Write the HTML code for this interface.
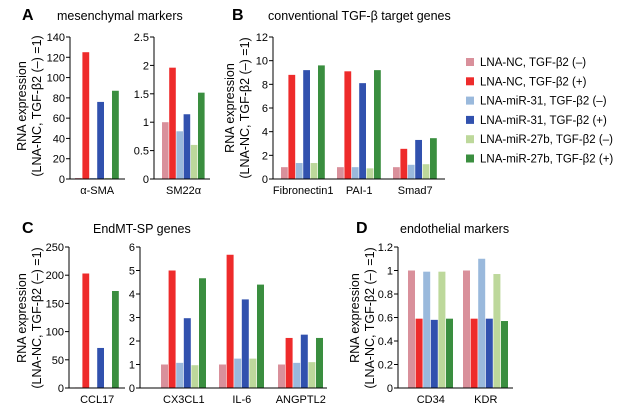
<!DOCTYPE html>
<html><head><meta charset="utf-8"><style>
html,body{margin:0;padding:0;background:#fff;}
svg{display:block;font-family:"Liberation Sans",Arial,sans-serif;}
</style></head><body>
<svg id="chart" width="638" height="412" viewBox="0 0 638 412" xmlns="http://www.w3.org/2000/svg">
<g font-size="16" font-weight="bold" fill="#000">
<text x="22" y="20">A</text>
<text x="232" y="20">B</text>
<text x="22" y="233">C</text>
<text x="356" y="233">D</text>
</g>
<g font-size="12.5" fill="#000">
<text x="57" y="20">mesenchymal markers</text>
<text x="268" y="20">conventional TGF-β target genes</text>
<text x="93" y="233">EndMT-SP genes</text>
<text x="400" y="233">endothelial markers</text>
</g>
<g id="ytitles" font-size="12.5" fill="#000" text-anchor="middle"></g>
<g id="plots"></g>
<g id="legend" font-size="11.5" fill="#000"></g>
</svg>
<script>
const colors=["#d9909b","#ee2b2b","#9ab9dc","#3151ae","#bdd89b","#3a8e3f"];
const seriesNames=["LNA-NC, TGF-β2 (–)","LNA-NC, TGF-β2 (+)","LNA-miR-31, TGF-β2 (–)","LNA-miR-31, TGF-β2 (+)","LNA-miR-27b, TGF-β2 (–)","LNA-miR-27b, TGF-β2 (+)"];
const catsA1=["α-SMA"], valsA1=[[1,125,1,76,1,87]], ticksA1=[0,20,40,60,80,100,120,140];
const catsA2=["SM22α"], valsA2=[[1,1.96,0.84,1.14,0.6,1.52]], ticksA2=[0,0.5,1,1.5,2,2.5];
const catsB=["Fibronectin1","PAI-1","Smad7"];
const valsB=[[1,8.8,1.35,9.2,1.35,9.6],[1,9.1,1,8.1,0.9,9.2],[1,2.55,1.2,3.3,1.25,3.45]];
const ticksB=[0,2,4,6,8,10,12];
const catsC1=["CCL17"], valsC1=[[1,203,1,71,1,172]], ticksC1=[0,50,100,150,200,250];
const catsC2=["CX3CL1","IL-6","ANGPTL2"];
const valsC2=[[1,5,1.07,2.97,0.97,4.67],[1,5.67,1.25,3.77,1.25,4.4],[1,2.13,1.07,2.27,1.1,2.13]];
const ticksC2=[0,1,2,3,4,5,6];
const catsD=["CD34","KDR"], valsD=[[1,0.59,0.99,0.58,0.99,0.59],[1,0.59,1.1,0.59,0.97,0.57]], ticksD=[0,0.2,0.4,0.6,0.8,1,1.2];

const NS="http://www.w3.org/2000/svg";
function mk(tag,attrs,parent){const e=document.createElementNS(NS,tag);for(const k in attrs)e.setAttribute(k,attrs[k]);parent.appendChild(e);return e;}
const plots=document.getElementById('plots');

function panel(name,ax,top,bot,xend,groupStarts,bw,cats,vals,ticks,catY){
  const g=mk('g',{},plots);
  
  
  const max=ticks[ticks.length-1];
  const y=v=>bot-(v/max)*(bot-top);
  vals.forEach((grp,gi)=>{
    grp.forEach((v,si)=>{
      const r=mk('rect',{x:groupStarts[gi]+si*bw,y:y(v),width:bw-0.6,height:bot-y(v),fill:colors[si]},g);
      
      
    });
    const t=mk('text',{x:groupStarts[gi]+bw*3,y:catY,'font-size':'11','text-anchor':'middle'},g);
    t.textContent=cats[gi];
    
    
  });
  const ya=mk('line',{x1:ax,y1:top,x2:ax,y2:bot,stroke:'#000','stroke-width':1},g);
  
  
  const xa=mk('line',{x1:ax,y1:bot,x2:xend,y2:bot,stroke:'#000','stroke-width':1},g);
  
  
  ticks.forEach(tv=>{
    mk('line',{x1:ax-4,y1:y(tv),x2:ax,y2:y(tv),stroke:'#000','stroke-width':1},g);
    const t=mk('text',{x:ax-5,y:y(tv)+4,'font-size':'11','text-anchor':'end'},g);
    t.textContent=String(tv);
    
    
  });
}
panel('chart-a-alpha-sma',70,37,179,125,[75],7.4,catsA1,valsA1,ticksA1,194);
panel('chart-a-sm22',154,37,179,210,[162],7.2,catsA2,valsA2,ticksA2,194);
panel('chart-b',273,37,179,445,[281,337,393],7.4,catsB,valsB,ticksB,194);
panel('chart-c-ccl17',69,247,388,125,[75],7.4,catsC1,valsC1,ticksC1,403);
panel('chart-c-genes',140,247,388,327,[161,219,278],7.6,catsC2,valsC2,ticksC2,403);
panel('chart-d',398,247,388,513,[408,463],7.6,catsD,valsD,ticksD,403);

const yt=document.getElementById('ytitles');
[[26,41,106],[234,249,108],[26,41,318],[359,374,318]].forEach(([x1,x2,cy])=>{
  const a=mk('text',{transform:`translate(${x1},${cy}) rotate(-90)`},yt);
  a.textContent='RNA expression';
  
  
  const b=mk('text',{transform:`translate(${x2},${cy}) rotate(-90)`},yt);
  b.textContent='(LNA-NC, TGF-β2 (–) =1)';
  
  
});
const lg=document.getElementById('legend');
seriesNames.forEach((n,i)=>{
  const yy=66+i*19.3;
  const r=mk('rect',{x:466,y:yy-8,width:8,height:8,fill:colors[i]},lg);
  
  
  const t=mk('text',{x:480,y:yy},lg);
  t.textContent=n;
  
  
});
</script>
</body></html>
